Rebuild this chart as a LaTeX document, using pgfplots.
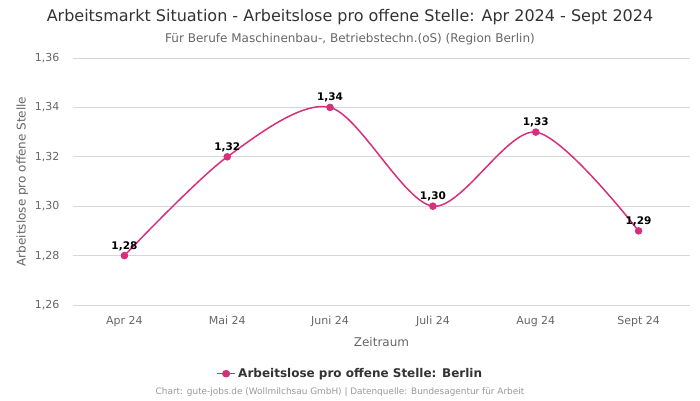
\documentclass[border=0pt]{standalone}
\usepackage{pgfplots}
\pgfplotsset{compat=1.18}
\usepackage{fontspec}
\setmainfont{DejaVu Sans}
\definecolor{linec}{RGB}{214,48,122}
\definecolor{gridc}{RGB}{216,216,216}
\definecolor{tickc}{RGB}{102,102,102}
\definecolor{titlec}{RGB}{51,51,51}
\definecolor{footc}{RGB}{153,153,153}
\begin{document}
\begin{tikzpicture}[x=1pt,y=1pt]
\path (0,0) rectangle (700,400);
\node[text=titlec,font=\fontsize{16}{18}\selectfont] at (350,383) {Arbeitsmarkt Situation - Arbeitslose pro offene Stelle: Apr 2024 - Sept 2024};
\node[text=tickc,font=\fontsize{12}{14}\selectfont] at (350,361) {Für Berufe Maschinenbau-, Betriebstechn.(oS) (Region Berlin)};
\node[text=footc,font=\fontsize{8.9}{10}\selectfont] at (340,8) {Chart: gute-jobs.de (Wollmilchsau GmbH) | Datenquelle: Bundesagentur für Arbeit};
\begin{axis}[
  at={(73pt,95pt)}, anchor=south west,
  scale only axis, width=617pt, height=247pt,
  xmin=-0.5, xmax=5.5, ymin=1.26, ymax=1.36,
  xtick={0,1,2,3,4,5},
  xticklabels={Apr 24,Mai 24,Juni 24,Juli 24,Aug 24,Sept 24},
  ytick={1.26,1.28,1.30,1.32,1.34,1.36},
  ymajorgrids, grid style={gridc, line width=0.8pt},
  axis line style={draw=none},
  major tick length=0pt,
  tick label style={text=tickc, font=\fontsize{11}{13}\selectfont},
  /pgf/number format/.cd, use comma, fixed, fixed zerofill, precision=2, assume math mode=true,
  /pgfplots/.cd,
  xticklabel style={yshift=-8pt},
  yticklabel style={xshift=-10pt},
  xlabel={Zeitraum}, xlabel style={text=tickc, font=\fontsize{12}{14}\selectfont, yshift=-3pt},
  ylabel={Arbeitslose pro offene Stelle}, ylabel style={text=tickc, font=\fontsize{12}{14}\selectfont, yshift=0pt},
  legend style={at={(0.449,-0.278)}, anchor=center, draw=none, fill=none, font=\bfseries\fontsize{12}{14}\selectfont, text=titlec},
  legend image post style={xscale=1.1},
  legend cell align=left,
  clip=false,
]
\addplot[linec, line width=1.5pt, smooth, tension=0.5, mark=*, mark size=3pt, mark options={fill=linec, draw=linec},
  nodes near coords, every node near coord/.append style={text=black, font=\bfseries\fontsize{10.5}{12}\selectfont, yshift=1pt}]
  coordinates {(0,1.28) (1,1.32) (2,1.34) (3,1.30) (4,1.33) (5,1.29)};
\addlegendentry{Arbeitslose pro offene Stelle: Berlin}
\end{axis}
\end{tikzpicture}
\end{document}
